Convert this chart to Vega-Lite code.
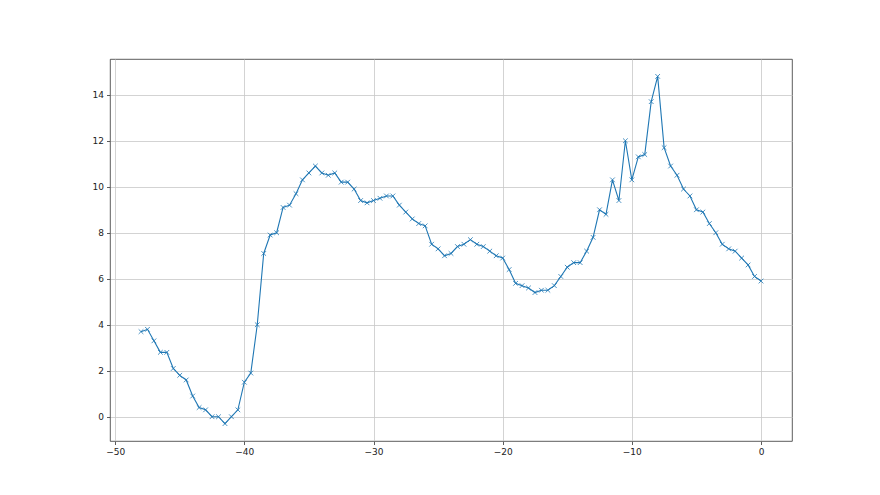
{
  "$schema": "https://vega.github.io/schema/vega-lite/v6.json",
  "width": 682,
  "height": 382,
  "autosize": {"type": "none"},
  "padding": {"left": 110, "top": 59, "right": 88, "bottom": 54},
  "background": "white",
  "config": {
    "view": {"stroke": "#333333", "strokeWidth": 0.8},
    "axis": {
      "domain": false,
      "grid": true,
      "gridColor": "#c8c8c8",
      "gridWidth": 0.8,
      "tickColor": "#333333",
      "tickSize": 3.5,
      "tickWidth": 0.8,
      "labelFont": "DejaVu Sans",
      "labelFontSize": 9,
      "labelColor": "#222222",
      "labelPadding": 3,
      "title": null
    }
  },
  "data": {
    "values": [
      {"x": -48, "y": 3.7}, {"x": -47.5, "y": 3.8}, {"x": -47, "y": 3.3}, {"x": -46.5, "y": 2.8},
      {"x": -46, "y": 2.8}, {"x": -45.5, "y": 2.1}, {"x": -45, "y": 1.8}, {"x": -44.5, "y": 1.6},
      {"x": -44, "y": 0.9}, {"x": -43.5, "y": 0.4}, {"x": -43, "y": 0.3}, {"x": -42.5, "y": 0.0},
      {"x": -42, "y": 0.0}, {"x": -41.5, "y": -0.3}, {"x": -41, "y": 0.0}, {"x": -40.5, "y": 0.3},
      {"x": -40, "y": 1.5}, {"x": -39.5, "y": 1.9}, {"x": -39, "y": 4.0}, {"x": -38.5, "y": 7.1},
      {"x": -38, "y": 7.9}, {"x": -37.5, "y": 8.0}, {"x": -37, "y": 9.1}, {"x": -36.5, "y": 9.2},
      {"x": -36, "y": 9.7}, {"x": -35.5, "y": 10.3}, {"x": -35, "y": 10.6}, {"x": -34.5, "y": 10.9},
      {"x": -34, "y": 10.6}, {"x": -33.5, "y": 10.5}, {"x": -33, "y": 10.6}, {"x": -32.5, "y": 10.2},
      {"x": -32, "y": 10.2}, {"x": -31.5, "y": 9.9}, {"x": -31, "y": 9.4}, {"x": -30.5, "y": 9.3},
      {"x": -30, "y": 9.4}, {"x": -29.5, "y": 9.5}, {"x": -29, "y": 9.6}, {"x": -28.5, "y": 9.6},
      {"x": -28, "y": 9.2}, {"x": -27.5, "y": 8.9}, {"x": -27, "y": 8.6}, {"x": -26.5, "y": 8.4},
      {"x": -26, "y": 8.3}, {"x": -25.5, "y": 7.5}, {"x": -25, "y": 7.3}, {"x": -24.5, "y": 7.0},
      {"x": -24, "y": 7.1}, {"x": -23.5, "y": 7.4}, {"x": -23, "y": 7.5}, {"x": -22.5, "y": 7.7},
      {"x": -22, "y": 7.5}, {"x": -21.5, "y": 7.4}, {"x": -21, "y": 7.2}, {"x": -20.5, "y": 7.0},
      {"x": -20, "y": 6.9}, {"x": -19.5, "y": 6.4}, {"x": -19, "y": 5.8}, {"x": -18.5, "y": 5.7},
      {"x": -18, "y": 5.6}, {"x": -17.5, "y": 5.4}, {"x": -17, "y": 5.5}, {"x": -16.5, "y": 5.5},
      {"x": -16, "y": 5.7}, {"x": -15.5, "y": 6.1}, {"x": -15, "y": 6.5}, {"x": -14.5, "y": 6.7},
      {"x": -14, "y": 6.7}, {"x": -13.5, "y": 7.2}, {"x": -13, "y": 7.8}, {"x": -12.5, "y": 9.0},
      {"x": -12, "y": 8.8}, {"x": -11.5, "y": 10.3}, {"x": -11, "y": 9.4}, {"x": -10.5, "y": 12.0},
      {"x": -10, "y": 10.3}, {"x": -9.5, "y": 11.3}, {"x": -9, "y": 11.4}, {"x": -8.5, "y": 13.7},
      {"x": -8, "y": 14.8}, {"x": -7.5, "y": 11.7}, {"x": -7, "y": 10.9}, {"x": -6.5, "y": 10.5},
      {"x": -6, "y": 9.9}, {"x": -5.5, "y": 9.6}, {"x": -5, "y": 9.0}, {"x": -4.5, "y": 8.9},
      {"x": -4, "y": 8.4}, {"x": -3.5, "y": 8.0}, {"x": -3, "y": 7.5}, {"x": -2.5, "y": 7.3},
      {"x": -2, "y": 7.2}, {"x": -1.5, "y": 6.9}, {"x": -1, "y": 6.6}, {"x": -0.5, "y": 6.1},
      {"x": 0, "y": 5.9}
    ]
  },
  "encoding": {
    "x": {
      "field": "x",
      "type": "quantitative",
      "scale": {"domain": [-50.4, 2.4], "nice": false, "zero": false},
      "axis": {"values": [-50, -40, -30, -20, -10, 0]}
    },
    "y": {
      "field": "y",
      "type": "quantitative",
      "scale": {"domain": [-1.055, 15.555], "nice": false, "zero": false},
      "axis": {"values": [0, 2, 4, 6, 8, 10, 12, 14]}
    }
  },
  "layer": [
    {"mark": {"type": "line", "color": "#1f77b4", "strokeWidth": 1.1}},
    {"mark": {"type": "point", "shape": "M-1,-1L1,1M-1,1L1,-1", "size": 22, "filled": false, "stroke": "#1f77b4", "strokeWidth": 0.8, "opacity": 1}}
  ]
}
